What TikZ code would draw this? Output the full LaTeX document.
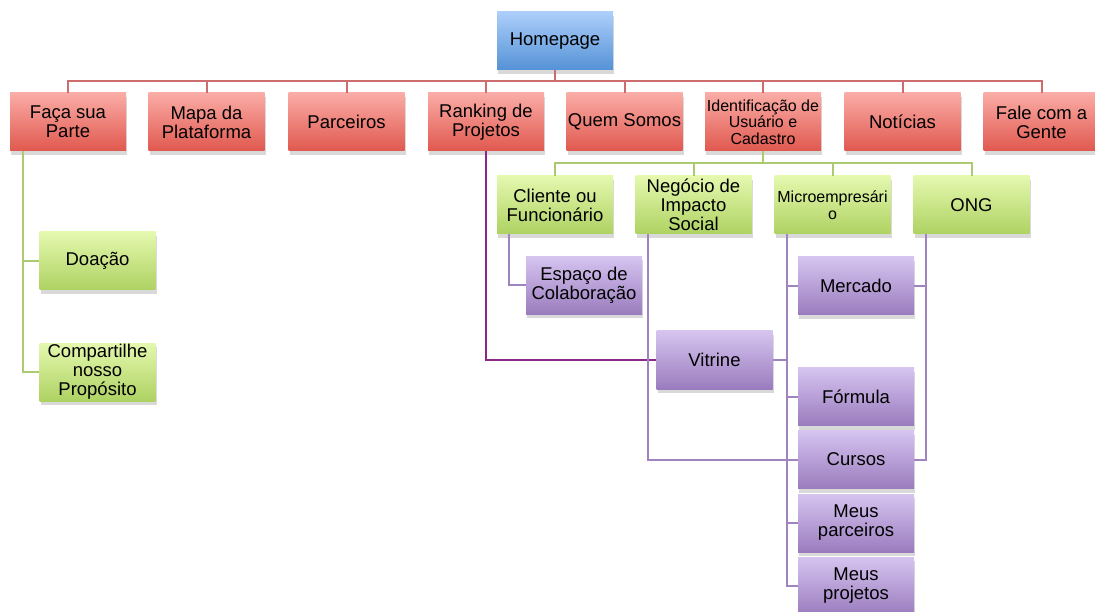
\documentclass[tikz,border=0pt]{standalone}
\usepackage{fontspec}
\setmainfont{Liberation Sans}
\usepackage{tikz}
\usetikzlibrary{shadows}

\definecolor{redtop}{RGB}{250,172,166}
\definecolor{redbot}{RGB}{224,88,78}
\definecolor{bluetop}{RGB}{172,206,250}
\definecolor{bluebot}{RGB}{84,146,214}
\definecolor{greentop}{RGB}{228,248,174}
\definecolor{greenbot}{RGB}{174,210,98}
\definecolor{purptop}{RGB}{214,196,240}
\definecolor{purpbot}{RGB}{154,124,190}
\definecolor{redln}{RGB}{205,108,108}
\definecolor{greenln}{RGB}{172,202,112}
\definecolor{purpln}{RGB}{160,132,192}
\definecolor{rankln}{RGB}{140,40,135}

\begin{document}
\begin{tikzpicture}[
  x=1pt, y=-1pt,
  box/.style={minimum width=116pt, minimum height=58pt, inner sep=0pt, align=center,
              font=\fontsize{18.5}{19}\selectfont,
              drop shadow={shadow xshift=1pt, shadow yshift=-4pt, opacity=0.3}},
  bluebox/.style={box, top color=bluetop, bottom color=bluebot},
  redbox/.style={box, top color=redtop, bottom color=redbot},
  greenbox/.style={box, top color=greentop, bottom color=greenbot},
  purplebox/.style={box, top color=purptop, bottom color=purpbot},
  smalltext/.style={font=\fontsize{16}{16.5}\selectfont},
  link/.style={line width=2pt},
  redline/.style={link, draw=redln},
  greenline/.style={link, draw=greenln},
  purpleline/.style={link, draw=purpln},
  rankline/.style={link, draw=rankln},
]
\useasboundingbox (0,0) rectangle (1095,612);

% Topo
\node[bluebox] (home) at (555,41) {Homepage};

% Menu principal
\node[redbox] (faca)      at (68,122)    {Faça sua\\Parte};
\node[redbox] (mapa)      at (206.5,122) {Mapa da\\Plataforma};
\node[redbox] (parceiros) at (346.5,122) {Parceiros};
\node[redbox] (ranking)   at (486,122)   {Ranking de\\Projetos};
\node[redbox] (quem)      at (624.5,122) {Quem Somos};
\node[redbox, smalltext] (ident) at (763,122) {Identificação de\\Usuário e\\Cadastro};
\node[redbox] (noticias)  at (902.5,122) {Notícias};
\node[redbox] (fale)      at (1041.5,122) {Fale com a\\Gente};

% Perfis
\node[greenbox] (cliente) at (555,205)   {Cliente ou\\Funcionário};
\node[greenbox] (negocio) at (693.5,205) {Negócio de\\Impacto\\Social};
\node[greenbox, smalltext] (micro) at (832.5,205) {Microempresári\\o};
\node[greenbox] (ong)     at (971.5,205) {ONG};

\node[greenbox] (doacao)  at (97.5,261) {Doação};
\node[greenbox] (compart) at (97.5,372) {Compartilhe\\nosso\\Propósito};

% Funcionalidades
\node[purplebox] (espaco)     at (584,285.5) {Espaço de\\Colaboração};
\node[purplebox] (vitrine)    at (714.5,360) {Vitrine};
\node[purplebox] (mercado)    at (856,286)   {Mercado};
\node[purplebox] (formula)    at (856,396.5) {Fórmula};
\node[purplebox] (cursos)     at (856,459.5) {Cursos};
\node[purplebox] (meusparc)   at (856,523)   {Meus\\parceiros};
\node[purplebox] (meusproj)   at (856,586)   {Meus\\projetos};

% Ligações
\foreach \n in {faca,mapa,parceiros,ranking,quem,ident,noticias,fale}
  \draw[redline] (home.south) -- ++(0,11) -| (\n.north);
\foreach \n in {cliente,negocio,micro,ong}
  \draw[greenline] (ident.south) -- ++(0,12) -| (\n.north);
\foreach \n in {doacao,compart}
  \draw[greenline] ([xshift=-45pt]faca.south) |- (\n.west);

\draw[purpleline] ([xshift=-46pt]cliente.south) |- (espaco.west);
\draw[rankline]   (ranking.south) |- (vitrine.west);
\draw[purpleline] ([xshift=-46pt]negocio.south) |- (cursos.west);
\foreach \n in {mercado,formula,cursos,meusparc,meusproj}
  \draw[purpleline] ([xshift=-46pt]micro.south) |- (\n.west);
\draw[purpleline] ([xshift=-46pt]micro.south) |- (vitrine.east);
\draw[purpleline] ([xshift=-46pt]ong.south) |- (mercado.east);
\draw[purpleline] ([xshift=-46pt]ong.south) |- (cursos.east);
\end{tikzpicture}
\end{document}
